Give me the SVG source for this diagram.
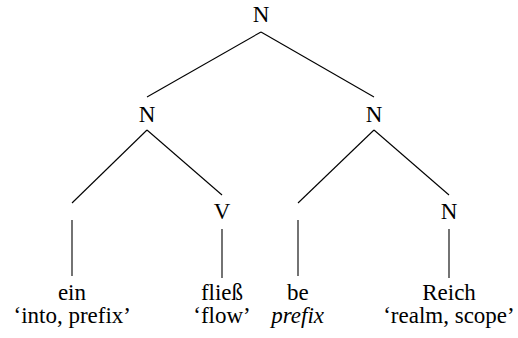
<svg xmlns="http://www.w3.org/2000/svg" width="518" height="338" viewBox="0 0 518 338">
  <rect width="518" height="338" fill="#fff"/>
  <g id="connectors" stroke="#000" stroke-width="1.1" fill="none">
    <line x1="261" y1="32" x2="147" y2="97"/>
    <line x1="261" y1="32" x2="374" y2="97"/>
    <line x1="147" y1="130" x2="72" y2="203"/>
    <line x1="147" y1="130" x2="222" y2="195"/>
    <line x1="374" y1="130" x2="298" y2="203"/>
    <line x1="374" y1="130" x2="449" y2="195"/>
    <line x1="72" y1="220" x2="72" y2="276"/>
    <line x1="222" y1="229" x2="222" y2="278"/>
    <line x1="298" y1="220" x2="298" y2="276"/>
    <line x1="449" y1="229" x2="449" y2="278"/>
  </g>
  <g id="root"><text x="252.7" y="22" font-size="23" font-family="Liberation Serif">N</text></g>
  <g id="n-left"><text x="138.7" y="122" font-size="23" font-family="Liberation Serif">N</text></g>
  <g id="n-right"><text x="365.7" y="122" font-size="23" font-family="Liberation Serif">N</text></g>
  <g id="v"><text x="213.7" y="219" font-size="23" font-family="Liberation Serif">V</text></g>
  <g id="n-reich"><text x="440.7" y="219" font-size="23" font-family="Liberation Serif">N</text></g>
  <g id="leaf-ein">
    <text x="57.9" y="300" font-size="23" font-family="Liberation Serif">ein</text>
    <text x="13.5" y="323" font-size="23" font-family="Liberation Serif">&#8216;into, prefix&#8217;</text>
  </g>
  <g id="leaf-fliess">
    <text x="200.9" y="300" font-size="23" font-family="Liberation Serif">flie&#223;</text>
    <text x="193.3" y="323" font-size="23" font-family="Liberation Serif">&#8216;flow&#8217;</text>
  </g>
  <g id="leaf-be">
    <text x="287.1" y="300" font-size="23" font-family="Liberation Serif">be</text>
    <text x="271.2" y="323" font-size="23" font-family="Liberation Serif" font-style="italic">prefix</text>
  </g>
  <g id="leaf-reich">
    <text x="422.2" y="300" font-size="23" font-family="Liberation Serif">Reich</text>
    <text x="383.2" y="323" font-size="23" font-family="Liberation Serif">&#8216;realm, scope&#8217;</text>
  </g>
</svg>
